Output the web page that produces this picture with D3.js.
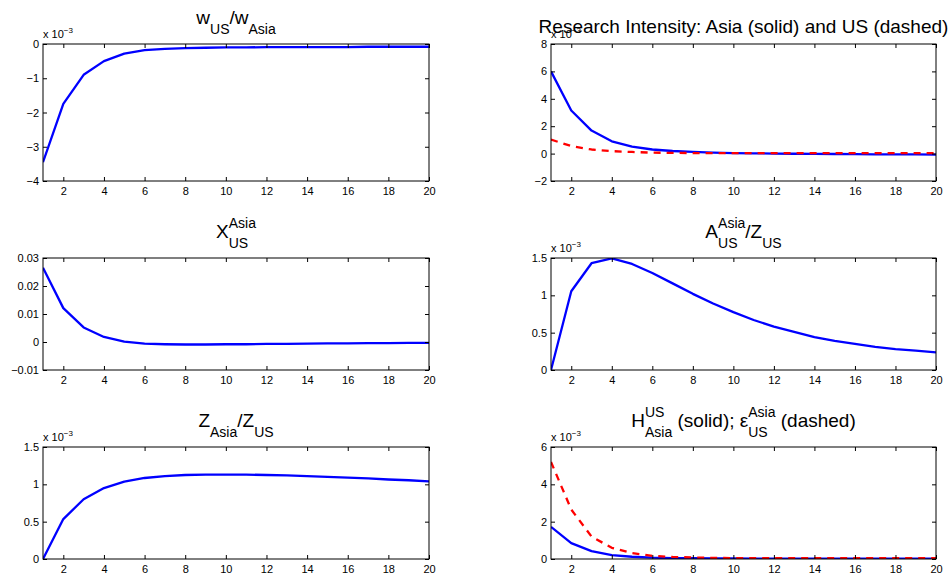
<!DOCTYPE html>
<html lang="en">
<head>
<meta charset="UTF-8">
<title>Impulse responses: Asia and US</title>
<style>
  body { margin: 0; background: #fff; }
  svg { display: block; }
  text { font-family: "Liberation Sans", Arial, Helvetica, sans-serif; fill: #000; }
</style>
</head>
<body>
<script src="https://cdn.jsdelivr.net/npm/d3@7/dist/d3.min.js"></script>
<script>
const width = 952, height = 574;

// periods after the shock
const periods = [1, 2, 3, 4, 5, 6, 7, 8, 9, 10, 11, 12, 13, 14, 15, 16, 17, 18, 19, 20];
const xTicks = [2, 4, 6, 8, 10, 12, 14, 16, 18, 20];

// series (x 10^-3 where the panel says so)
const wageRatio = [-3.45, -1.75, -0.90, -0.50, -0.28, -0.18, -0.14, -0.12, -0.11, -0.10,
                   -0.10, -0.09, -0.09, -0.09, -0.09, -0.09, -0.08, -0.08, -0.08, -0.08];
const researchAsia = [6.00, 3.15, 1.68, 0.90, 0.51, 0.30, 0.19, 0.12, 0.07, 0.04,
                      0.02, 0.00, -0.01, -0.02, -0.03, -0.04, -0.05, -0.05, -0.06, -0.07];
const researchUS = [1.02, 0.55, 0.30, 0.18, 0.12, 0.07, 0.05, 0.04, 0.03, 0.03,
                    0.03, 0.03, 0.03, 0.03, 0.03, 0.03, 0.03, 0.03, 0.03, 0.03];
const exportShare = [0.0265, 0.0121, 0.0052, 0.0018, 0.0001, -0.0006, -0.0008, -0.0009, -0.0009, -0.0008,
                     -0.0008, -0.0007, -0.0007, -0.0006, -0.0005, -0.0005, -0.0004, -0.0004, -0.0003, -0.0003];
const adoptRatio = [0.00, 1.055, 1.43, 1.495, 1.42, 1.30, 1.16, 1.02, 0.89, 0.775,
                    0.67, 0.58, 0.51, 0.44, 0.39, 0.35, 0.31, 0.28, 0.26, 0.235];
const zRatio = [0.00, 0.535, 0.80, 0.95, 1.035, 1.085, 1.11, 1.125, 1.13, 1.13,
                1.13, 1.125, 1.12, 1.11, 1.10, 1.09, 1.08, 1.065, 1.055, 1.04];
const hAsia = [1.72, 0.85, 0.42, 0.21, 0.12, 0.07, 0.05, 0.04, 0.03, 0.03,
               0.02, 0.02, 0.02, 0.02, 0.02, 0.02, 0.02, 0.02, 0.02, 0.02];
const epsUS = [5.20, 2.65, 1.20, 0.60, 0.32, 0.17, 0.11, 0.08, 0.06, 0.05,
               0.05, 0.05, 0.04, 0.04, 0.04, 0.04, 0.04, 0.04, 0.04, 0.04];

// y ticks and their labels
const yTicksW = [-4, -3, -2, -1, 0];
const yLabelsW = ["\u22124", "\u22123", "\u22122", "\u22121", "0"];
const yTicksR = [-2, 0, 2, 4, 6, 8];
const yLabelsR = ["\u22122", "0", "2", "4", "6", "8"];
const yTicksX = [-0.01, 0, 0.01, 0.02, 0.03];
const yLabelsX = ["\u22120.01", "0", "0.01", "0.02", "0.03"];
const yTicksA = [0, 0.5, 1, 1.5];
const yLabelsA = ["0", "0.5", "1", "1.5"];
const yTicksH = [0, 2, 4, 6];
const yLabelsH = ["0", "2", "4", "6"];

const blue = "#0000ff", red = "#ff0000";

const svg = d3.select("body").append("svg")
    .attr("width", width)
    .attr("height", height);

const panels = [
  { box: [43, 44, 429, 181], y: [-4, 0], ticks: yTicksW, labels: yLabelsW, exp: true, titleGap: 20,
    title: [{ t: "w" }, { sub: "US" }, { t: "/w" }, { sub: "Asia" }],
    series: [{ v: wageRatio, c: blue }] },
  { box: [551, 44, 936, 181], y: [-2, 8], ticks: yTicksR, labels: yLabelsR, exp: true, titleGap: 11,
    title: [{ t: "Research Intensity: Asia (solid) and US (dashed)" }],
    series: [{ v: researchAsia, c: blue }, { v: researchUS, c: red, dash: true }] },
  { box: [43, 258, 429, 370], y: [-0.01, 0.03], ticks: yTicksX, labels: yLabelsX, exp: false, titleGap: 20,
    title: [{ t: "X" }, { sub: "US", sup: "Asia" }],
    series: [{ v: exportShare, c: blue }] },
  { box: [551, 258, 936, 370], y: [0, 1.5], ticks: yTicksA, labels: yLabelsA, exp: true, titleGap: 20,
    title: [{ t: "A" }, { sub: "US", sup: "Asia" }, { t: "/Z" }, { sub: "US" }],
    series: [{ v: adoptRatio, c: blue }] },
  { box: [43, 447, 429, 559], y: [0, 1.5], ticks: yTicksA, labels: yLabelsA, exp: true, titleGap: 20,
    title: [{ t: "Z" }, { sub: "Asia" }, { t: "/Z" }, { sub: "US" }],
    series: [{ v: zRatio, c: blue }] },
  { box: [551, 447, 936, 559], y: [0, 6], ticks: yTicksH, labels: yLabelsH, exp: true, titleGap: 20,
    title: [{ t: "H" }, { sub: "Asia", sup: "US" }, { t: " (solid); \u03b5" }, { sub: "US", sup: "Asia" }, { t: " (dashed)" }],
    series: [{ v: hAsia, c: blue }, { v: epsUS, c: red, dash: true }] }
];

function drawTitle(cx, baseline, parts) {
  const g = svg.append("g");
  let cursor = 0;
  parts.forEach(p => {
    if (p.t !== undefined) {
      const s = g.append("text").attr("x", cursor).attr("y", baseline)
          .style("font-size", "19px").style("white-space", "pre").text(p.t);
      cursor += s.node().getComputedTextLength();
    } else {
      let w = 0;
      if (p.sup) {
        const s = g.append("text").attr("x", cursor).attr("y", baseline - 10)
            .style("font-size", "14px").text(p.sup);
        w = Math.max(w, s.node().getComputedTextLength());
      }
      if (p.sub) {
        const s = g.append("text").attr("x", cursor).attr("y", baseline + 10)
            .style("font-size", "14px").text(p.sub);
        w = Math.max(w, s.node().getComputedTextLength());
      }
      cursor += w;
    }
  });
  g.attr("transform", `translate(${cx - cursor / 2},0)`);
}

panels.forEach((p, i) => {
  const [x0, y0, x1, y1] = p.box;
  const x = d3.scaleLinear().domain([1, 20]).range([x0, x1]);
  const y = d3.scaleLinear().domain(p.y).range([y1, y0]);

  const clipId = "clip" + i;
  svg.append("clipPath").attr("id", clipId)
    .append("rect").attr("x", x0).attr("y", y0).attr("width", x1 - x0).attr("height", y1 - y0);

  const g = svg.append("g");

  const line = d3.line()
      .x((d, k) => x(periods[k]))
      .y(d => y(d));

  p.series.forEach(s => {
    g.append("path")
      .datum(s.v)
      .attr("clip-path", `url(#${clipId})`)
      .attr("fill", "none")
      .attr("stroke", s.c)
      .attr("stroke-width", 2.3)
      .attr("stroke-linejoin", "round")
      .attr("stroke-dasharray", s.dash ? "7,6" : null)
      .attr("d", line);
  });

  // axes: ticks point inward on all four sides
  const labelMap = new Map(p.ticks.map((t, k) => [t, p.labels[k]]));

  g.append("g").attr("transform", `translate(0,${y1})`)
    .call(d3.axisBottom(x).tickValues(xTicks).tickSizeInner(-4).tickSizeOuter(0).tickPadding(6));
  g.append("g").attr("transform", `translate(0,${y0})`)
    .call(d3.axisTop(x).tickValues(xTicks).tickSizeInner(-4).tickSizeOuter(0).tickFormat(""));
  g.append("g").attr("transform", `translate(${x0},0)`)
    .call(d3.axisLeft(y).tickValues(p.ticks).tickSizeInner(-4).tickSizeOuter(0).tickPadding(4)
      .tickFormat(d => labelMap.get(d)));
  g.append("g").attr("transform", `translate(${x1},0)`)
    .call(d3.axisRight(y).tickValues(p.ticks).tickSizeInner(-4).tickSizeOuter(0).tickFormat(""));

  g.selectAll(".domain").remove();
  g.selectAll(".tick line").attr("stroke", "#000");
  g.selectAll(".tick text")
    .style("font-family", "\"Liberation Sans\", Arial, sans-serif")
    .style("font-size", "11px")
    .attr("fill", "#000");

  g.append("rect")
    .attr("x", x0).attr("y", y0)
    .attr("width", x1 - x0).attr("height", y1 - y0)
    .attr("fill", "none")
    .attr("stroke", "#000")
    .attr("stroke-width", 1);

  if (p.exp) {
    const e = svg.append("text").attr("x", x0).attr("y", y0 - 6).style("font-size", "11px");
    e.append("tspan").text("x 10");
    e.append("tspan").attr("dy", -5).style("font-size", "8px").text("\u22123");
  }

  drawTitle((x0 + x1) / 2, y0 - p.titleGap, p.title);
});
</script>
</body>
</html>
